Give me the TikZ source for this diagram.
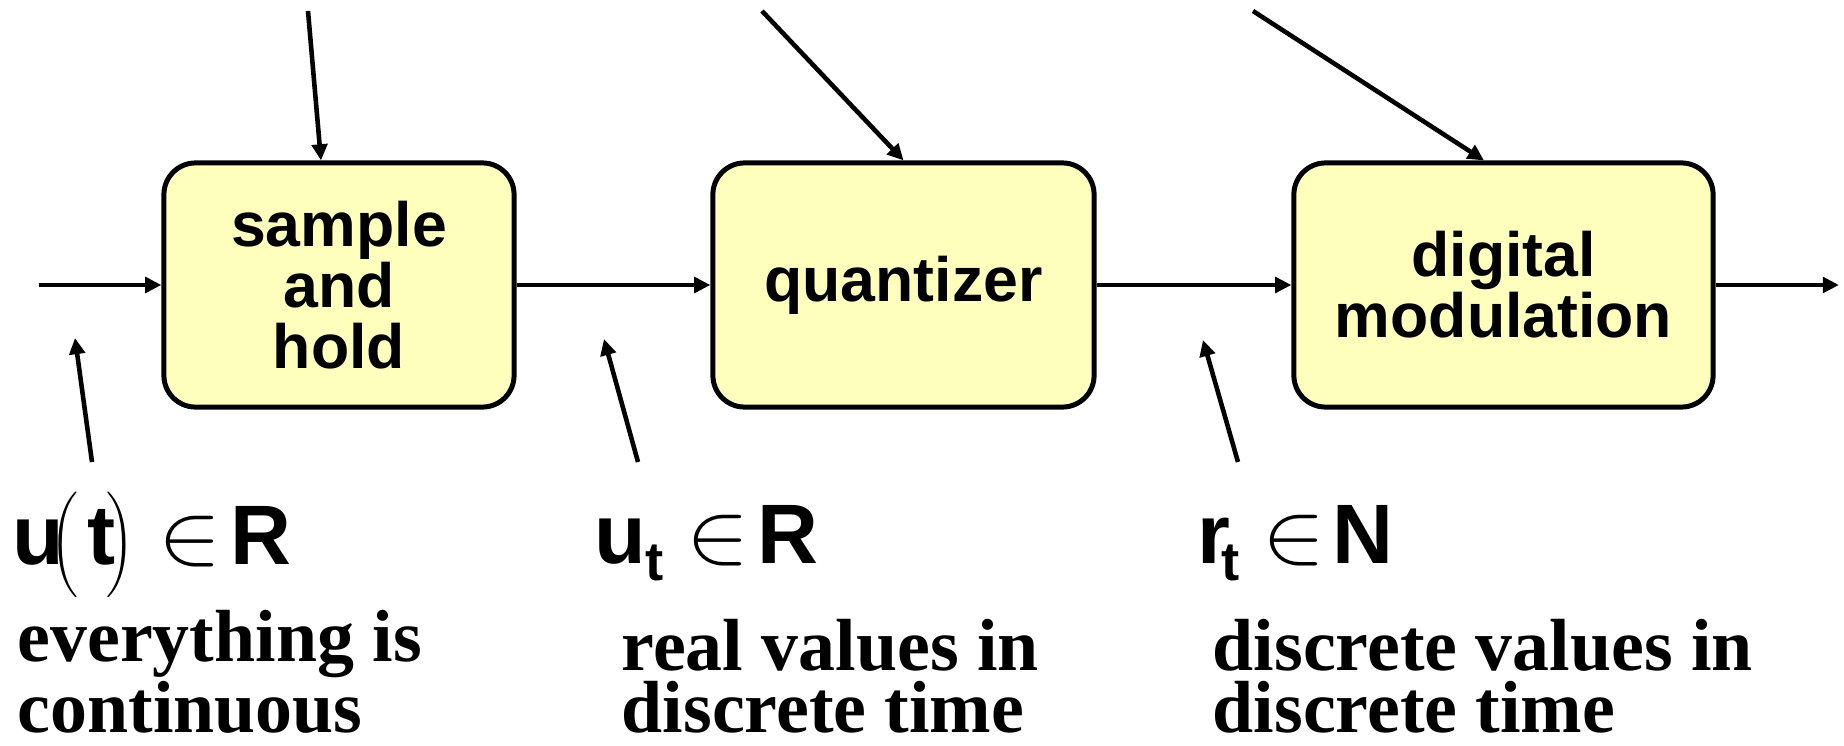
\documentclass[tikz,border=0pt]{standalone}
\usepackage{fontspec}
\usepackage{graphicx}
\setmainfont{Liberation Serif}
\setsansfont{Liberation Sans}
\usetikzlibrary{arrows.meta}
\definecolor{boxfill}{RGB}{255,255,189}
\newcommand{\wideelem}{\scalebox{1.08}[1]{$\in$}}
\tikzset{
  block/.style={draw=black, line width=1.42pt, fill=boxfill, rounded corners=9pt,
    minimum height=2.44cm, inner sep=0pt, align=center,
    font=\sffamily\bfseries\fontsize{17.8pt}{17.4pt}\selectfont},
  flow/.style={line width=1.3pt, -{Triangle[length=4.6pt,width=4.4pt]}},
  sym/.style={inner sep=0pt, anchor=base, font=\sffamily\bfseries\fontsize{24pt}{24pt}\selectfont},
  sub/.style={inner sep=0pt, anchor=base, font=\sffamily\bfseries\fontsize{15.5pt}{15.5pt}\selectfont},
  elem/.style={inner sep=0pt, anchor=base, font=\fontsize{23pt}{23pt}\selectfont},
  paren/.style={inner sep=0pt, anchor=center, font=\fontsize{10.1pt}{10.1pt}\selectfont},
  note/.style={inner sep=0pt, anchor=base west, align=left,
    font=\rmfamily\bfseries\fontsize{21pt}{17.9pt}\selectfont},
}
\begin{document}
\begin{tikzpicture}[x=0.01cm, y=-0.01cm]
\useasboundingbox (0,0) rectangle (1844,746);

% processing blocks
\node[block, minimum width=3.50cm] (sh) at (339,285) {sample\\and\\hold};
\node[block, minimum width=3.81cm] (qz) at (903.5,285) {quantizer};
\node[block, minimum width=4.19cm] (dm) at (1503.5,285) {digital\\modulation};

% signal path
\coordinate (in) at (39,285);
\coordinate (out) at (1839,285);
\draw[flow] (in) -- (sh.west);
\draw[flow] (sh.east) -- (qz.west);
\draw[flow] (qz.east) -- (dm.west);
\draw[flow] (dm.east) -- (out);

% arrows from above
\coordinate (s1) at (308,11);
\coordinate (s2) at (762,11);
\coordinate (s3) at (1253,11);
\draw[flow] (s1) -- ([xshift=-0.18cm]sh.north);
\draw[flow] (s2) -- (qz.north);
\draw[flow] (s3) -- ([xshift=-0.195cm]dm.north);

% pointers to the signals
\coordinate (b1s) at (92,462);  \coordinate (b1e) at (75,338);
\coordinate (b2s) at (638,462); \coordinate (b2e) at (604,339);
\coordinate (b3s) at (1238,462);\coordinate (b3e) at (1203,340);
\draw[flow] (b1s) -- (b1e);
\draw[flow] (b2s) -- (b2e);
\draw[flow] (b3s) -- (b3e);

% u(t) in R
\node[sym] (u1) at (38,565) {u};
\node[paren] (p1l) at (64,545) {$\Bigg($};
\node[sym] (t1) at (102,565) {t};
\node[paren] (p1r) at (120,545) {$\Bigg)$};
\node[elem] (e1) at (190,564) {\wideelem};
\node[sym] (R1) at (261,565) {R};

% u_t in R
\node[sym] (u2) at (620,564) {u};
\node[sub] (t2) at (655,581) {t};
\node[elem] (e2) at (718,563) {\wideelem};
\node[sym] (R2) at (788,564) {R};

% r_t in N
\node[sym] (r3) at (1214,564) {r};
\node[sub] (t3) at (1231,581) {t};
\node[elem] (e3) at (1294,563) {\wideelem};
\node[sym] (N3) at (1363,564) {N};

% descriptions (base anchor sits on the last line)
\node[note] (n1) at (17,733) {everything is\\continuous};
\node[note] (n2) at (621,733) {real values in\\discrete time};
\node[note] (n3) at (1212,733) {discrete values in\\discrete time};
\end{tikzpicture}
\end{document}
